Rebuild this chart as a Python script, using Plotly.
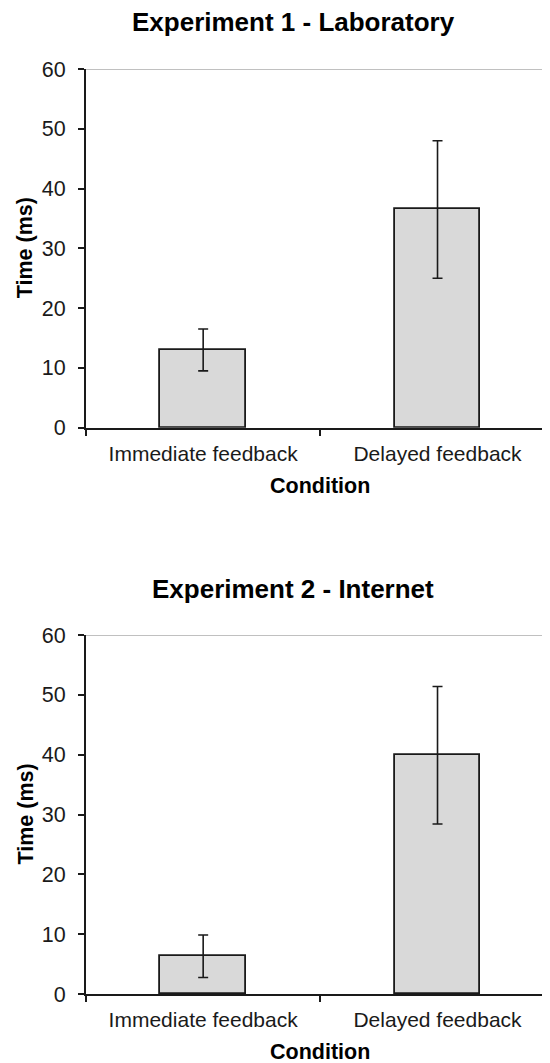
import plotly.graph_objects as go

categories = ["Immediate feedback", "Delayed feedback"]
exp1_means = [13.0, 36.5]
exp1_err = [3.5, 11.5]
exp2_means = [6.3, 39.9]
exp2_err = [3.55, 11.5]
y_ticks = [0, 10, 20, 30, 40, 50, 60]
titles = ["Experiment 1 - Laboratory", "Experiment 2 - Internet"]
x_title = "Condition"
y_title = "Time (ms)"

OFF = 8  # page body margin
W, H = 550 - OFF, 1063 - OFF
FONT = "Liberation Sans, Arial, sans-serif"
INK = "#1a1a1a"


def px_x(p):
    return (p - OFF) / W


def px_y(p):
    return 1 - (p - OFF) / H


fig = go.Figure()
for i, (means, errs) in enumerate([(exp1_means, exp1_err), (exp2_means, exp2_err)]):
    suffix = "" if i == 0 else "2"
    fig.add_trace(go.Bar(
        x=categories, y=means,
        xaxis="x" + suffix, yaxis="y" + suffix,
        width=0.365,
        marker=dict(color="#d9d9d9", line=dict(color=INK, width=1.8)),
        error_y=dict(type="data", array=errs, visible=True, color=INK,
                     thickness=1.6, width=5),
        showlegend=False, hoverinfo="skip",
    ))

domains_y = [[px_y(427.7), px_y(69)], [px_y(994), px_y(635)]]
axis_common_x = dict(
    type="category", range=[-0.5, 1.48], domain=[px_x(86), 1],
    showline=True, linecolor=INK, linewidth=2,
    ticks="outside", tickson="boundaries", ticklen=6, tickwidth=1.8, tickcolor=INK,
    ticklabelstandoff=6,
    tickfont=dict(family=FONT, size=21, color=INK),
    showgrid=False, zeroline=False, automargin=False, fixedrange=True,
)
axis_common_y = dict(
    range=[0, 60], tickvals=y_ticks, ticktext=[str(v) for v in y_ticks],
    showline=True, linecolor=INK, linewidth=2,
    ticks="outside", ticklen=6, tickwidth=1.8, tickcolor=INK,
    ticklabelstandoff=8,
    tickfont=dict(family=FONT, size=21.5, color=INK),
    showgrid=False, zeroline=False, automargin=False, fixedrange=True,
)

fig.update_layout(
    width=W, height=H,
    margin=dict(l=0, r=0, t=0, b=0),
    paper_bgcolor="white", plot_bgcolor="white",
    template="none",
    bargap=0,
    xaxis=dict(axis_common_x, anchor="y"),
    yaxis=dict(axis_common_y, domain=domains_y[0], anchor="x"),
    xaxis2=dict(axis_common_x, anchor="y2"),
    yaxis2=dict(axis_common_y, domain=domains_y[1], anchor="x2"),
)

shapes = []
for yref, xref in [("y", "x domain"), ("y2", "x2 domain")]:
    shapes.append(dict(type="line", xref=xref, yref=yref, x0=0, x1=1, y0=60, y1=60,
                       line=dict(color="#ababab", width=1.3), layer="below"))
fig.update_layout(shapes=shapes)

ann = []
title_y = [22, 589]
cond_y = [486, 1052]
time_y = [248.3, 814.5]
for i in range(2):
    ann.append(dict(text=titles[i], xref="paper", yref="paper", x=px_x(293), y=px_y(title_y[i]),
                    xanchor="center", yanchor="middle", showarrow=False,
                    font=dict(family=FONT, size=26, color="black", weight="bold")))
    ann.append(dict(text=x_title, xref="paper", yref="paper", x=px_x(320), y=px_y(cond_y[i]),
                    xanchor="center", yanchor="middle", showarrow=False,
                    font=dict(family=FONT, size=21.5, color="black", weight="bold")))
    ann.append(dict(text=y_title, xref="paper", yref="paper", x=px_x(25), y=px_y(time_y[i]),
                    xanchor="center", yanchor="middle", showarrow=False, textangle=-90,
                    font=dict(family=FONT, size=21.5, color="black", weight="bold")))
fig.update_layout(annotations=ann)

fig.write_html("out.html")
